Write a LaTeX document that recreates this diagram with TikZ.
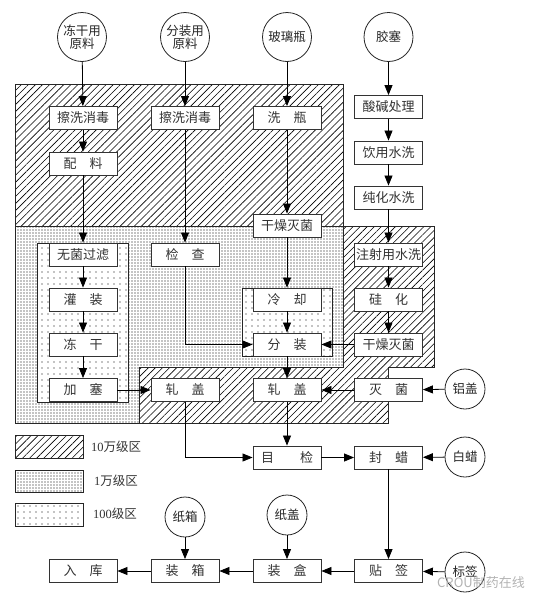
\documentclass[tikz,border=0pt]{standalone}
\usepackage{fontspec}
\setmainfont{Liberation Serif}
\newfontfamily\cjk{Noto Sans CJK SC}
\usetikzlibrary{patterns.meta,arrows.meta}
\begin{document}
\begin{tikzpicture}[x=1pt,y=-1pt,
  box/.style={draw=black!80, line width=0.9pt, fill=white, minimum width=68pt, minimum height=23pt, inner sep=0pt, font=\cjk\fontsize{13}{15}\selectfont, text=black!80},
  src/.style={draw=black!85, line width=0.8pt, circle, minimum size=49pt, inner sep=0pt, font=\cjk\fontsize{12.5}{15}\selectfont, align=center, fill=white, text=black!85},
  ssrc/.style={src, minimum size=40pt},
  arr/.style={line width=0.8pt, draw=black, -{Triangle[length=10pt,width=8pt]}},
  ln/.style={line width=0.8pt, draw=black},
  hatch/.style={draw=black!85, line width=1pt, pattern={Lines[angle=45,distance=5pt,line width=0.6pt]}},
  dense/.style={draw=black!85, line width=1pt, pattern={Dots[distance=3pt,radius=0.6pt]}},
  sparse/.style={draw=black!85, line width=1pt, fill=white, postaction={pattern={Dots[distance=6pt,radius=0.65pt]}}},
  legtxt/.style={anchor=west, font=\cjk\fontsize{12.5}{15}\selectfont, text=black!80, inner sep=0pt}
]
\useasboundingbox (0,0) rectangle (542,608);
% zones
\path[hatch] (15,84) rectangle (343,226);
\path[dense] (15,226) -- (343,226) -- (343,367) -- (139,367) -- (139,423) -- (15,423) -- cycle;
\path[hatch] (343,226) -- (434,226) -- (434,367) -- (388,367) -- (388,423) -- (139,423) -- (139,367) -- (343,367) -- cycle;
\path[sparse] (37,243) rectangle (128,402);
\path[sparse] (242,288) rectangle (332,356);
% sources
\node[src] (s1) at (82,37) {冻干用\\[-2pt]原料};
\node[src] (s2) at (185,37) {分装用\\[-2pt]原料};
\node[src] (s3) at (287,37) {玻璃瓶};
\node[src] (s4) at (388.5,37) {胶塞};
\node[ssrc] (al) at (465,389) {铝盖};
\node[ssrc] (wax) at (465,457) {白蜡};
\node[ssrc] (box) at (185,517) {纸箱};
\node[ssrc] (lid) at (287,515) {纸盖};
\node[ssrc] (lab) at (465,572) {标签};
% boxes
\node[box] (a1) at (83,118) {擦洗消毒};
\node[box] (a2) at (83,163.5) {配\hspace{1em}料};
\node[box] (a3) at (83,254.5) {无菌过滤};
\node[box] (a4) at (83,299.5) {灌\hspace{1em}装};
\node[box] (a5) at (83,344.5) {冻\hspace{1em}干};
\node[box] (a6) at (83,390) {加\hspace{1em}塞};
\node[box] (b1) at (185,118) {擦洗消毒};
\node[box] (b2) at (185,254.5) {检\hspace{1em}查};
\node[box] (b3) at (185,390) {轧\hspace{1em}盖};
\node[box] (c1) at (287,118) {洗\hspace{1em}瓶};
\node[box] (c2) at (287,225.5) {干燥灭菌};
\node[box] (c3) at (287,299.5) {冷\hspace{1em}却};
\node[box] (c4) at (287,344.5) {分\hspace{1em}装};
\node[box] (c5) at (287,390) {轧\hspace{1em}盖};
\node[box] (d1) at (388.5,107) {酸碱处理};
\node[box] (d2) at (388.5,152.5) {饮用水洗};
\node[box] (d3) at (388.5,197.5) {纯化水洗};
\node[box] (d4) at (388.5,254.5) {注射用水洗};
\node[box] (d5) at (388.5,299.5) {硅\hspace{1em}化};
\node[box] (d6) at (388.5,344.5) {干燥灭菌};
\node[box] (d7) at (388.5,390) {灭\hspace{1em}菌};
\node[box] (e1) at (287,457.5) {目\hspace{2em}检};
\node[box] (e2) at (388.5,457.5) {封\hspace{1em}蜡};
\node[box] (f1) at (83,571) {入\hspace{1em}库};
\node[box] (f2) at (185,571) {装\hspace{1em}箱};
\node[box] (f3) at (287,571) {装\hspace{1em}盒};
\node[box] (f4) at (388.5,571) {贴\hspace{1em}签};
% arrows
\draw[arr] (s1) -- (a1);
\draw[arr] (a1) -- (a2);
\draw[arr] (a2) -- (a3);
\draw[arr] (a3) -- (a4);
\draw[arr] (a4) -- (a5);
\draw[arr] (a5) -- (a6);
\draw[arr] (a6) -- (b3);
\draw[arr] (s2) -- (b1);
\draw[arr] (b1) -- (b2);
\draw[arr] (b2.south) |- (c4.west);
\draw[arr] (s3) -- (c1);
\draw[arr] (c1) -- (c2);
\draw[arr] (c2) -- (c3);
\draw[arr] (c3) -- (c4);
\draw[arr] (c4) -- (c5);
\draw[arr] (s4) -- (d1);
\draw[arr] (d1) -- (d2);
\draw[arr] (d2) -- (d3);
\draw[arr] (d3) -- (d4);
\draw[arr] (d4) -- (d5);
\draw[arr] (d5) -- (d6);
\draw[arr] (d6) -- (c4);
\draw[arr] (al) -- (d7);
\draw[arr] (d7) -- (c5);
\draw[arr] (b3.south) |- (e1.west);
\draw[arr] (c5) -- (e1);
\draw[arr] (e1) -- (e2);
\draw[arr] (wax) -- (e2);
\draw[arr] (e2) -- (f4);
\draw[arr] (lab) -- (f4);
\draw[arr] (f4) -- (f3);
\draw[arr] (lid) -- (f3);
\draw[arr] (f3) -- (f2);
\draw[arr] (box) -- (f2);
\draw[arr] (f2) -- (f1);
% legend
\path[hatch] (15,435) rectangle (83,458);
\path[dense] (15,470) rectangle (83,492);
\path[sparse] (15,503) rectangle (83,526);
\node[legtxt] (l1) at (91,447) {{\rmfamily 10}万级区};
\node[legtxt] (l2) at (94,481) {{\rmfamily 1}万级区};
\node[legtxt] (l3) at (93,514) {{\rmfamily 100}级区};
% watermark
\node[anchor=west, inner sep=0pt, font=\cjk\fontsize{13}{15}\selectfont, text=black!30] (wm) at (437,583) {CROU制药在线};
\end{tikzpicture}
\end{document}
